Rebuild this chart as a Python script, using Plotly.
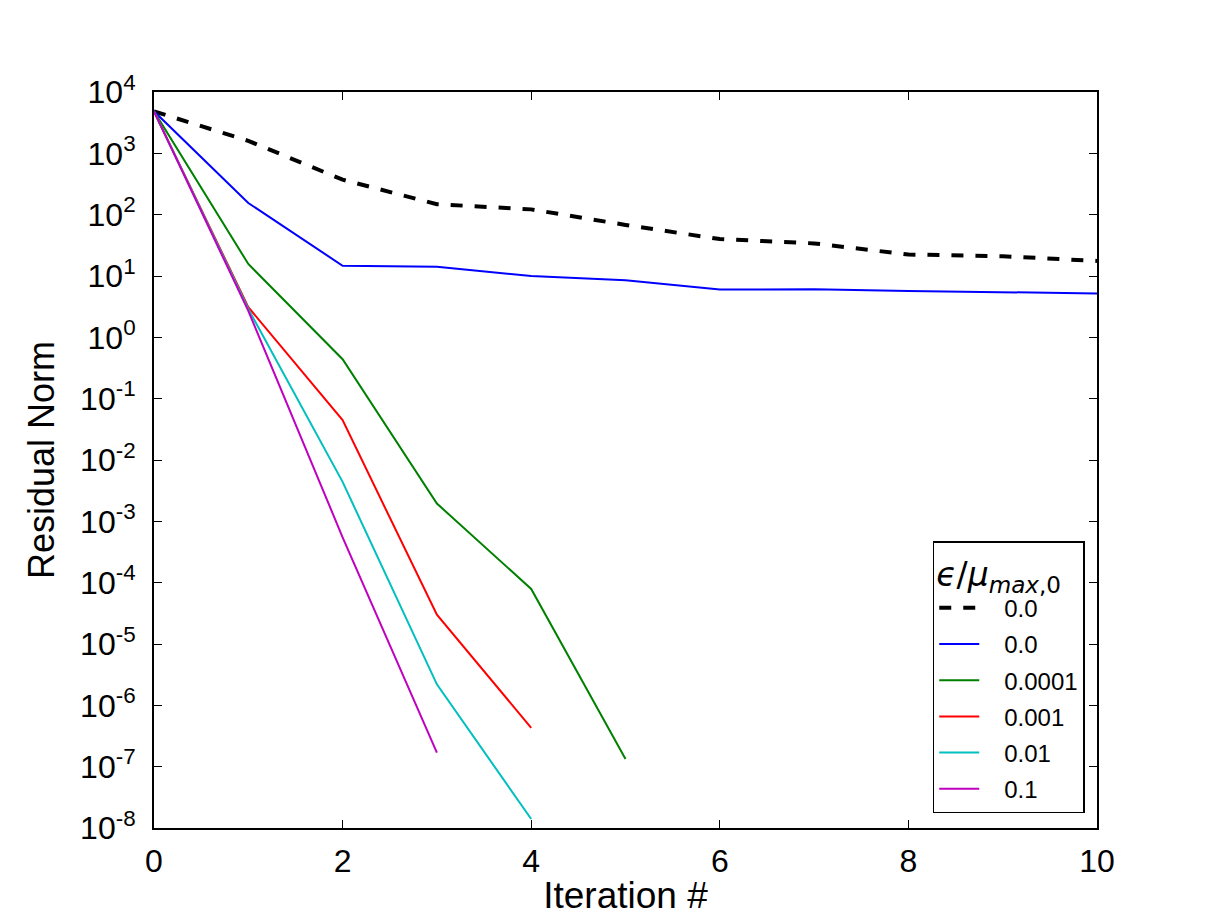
import plotly.graph_objects as go

iterations = list(range(11))

labels = ["0.0", "0.0", "0.0001", "0.001", "0.01", "0.1"]
colors = ["#000000", "#0000ff", "#008000", "#ff0000", "#00bfbf", "#bf00bf"]

res_black = [4840, 1600, 372, 148, 122, 68, 40, 34, 22.4, 21, 17.6]
res_blue = [4840, 155, 14.7, 14.2, 10, 8.5, 6.0, 6.1, 5.7, 5.5, 5.2]
res_green = [4840, 15.7, 0.44, 1.95e-3, 7.9e-5, 1.33e-7]
res_red = [4840, 3.1, 0.0446, 3.0e-5, 4.3e-7]
res_cyan = [4840, 2.9, 4.4e-3, 2.2e-6, 1.4e-8]
res_magenta = [4840, 2.7, 5.5e-4, 1.7e-7]

series = [res_black, res_blue, res_green, res_red, res_cyan, res_magenta]

ytick_exp = list(range(-8, 5))
xtick_vals = [0, 2, 4, 6, 8, 10]

FONT = "Liberation Sans, Arial, Helvetica, sans-serif"
PAD = "\u00a0\u00a0\u00a0"

fig = go.Figure()
for i, (lab, col, ys) in enumerate(zip(labels, colors, series)):
    if i == 0:
        line = dict(color=col, width=4, dash="12px,12px")
    else:
        line = dict(color=col, width=2)
    fig.add_trace(go.Scatter(
        x=iterations[:len(ys)], y=ys, mode="lines", name=PAD + lab,
        line=line, legendgroup=f"g{i}", showlegend=True,
    ))

fig.update_layout(
    width=1219, height=919,
    margin=dict(l=154, r=122, t=92, b=91, autoexpand=False),
    paper_bgcolor="white", plot_bgcolor="white",
    font=dict(family=FONT, color="black", size=32),
    showlegend=True,
    legend=dict(
        x=0.987, y=0.02, xanchor="right", yanchor="bottom",
        bgcolor="white", bordercolor="black", borderwidth=1.5,
        font=dict(family=FONT, size=24, color="black"),
        title=dict(text="<i>ϵ</i>/<i>μ</i><sub><i>max</i>,0</sub>",
                   font=dict(family="DejaVu Sans", size=33)),
        tracegroupgap=2,
        itemwidth=40,
    ),
)

fig.update_xaxes(
    range=[0, 10], tickvals=xtick_vals, ticktext=[str(v) for v in xtick_vals],
    ticks="inside", ticklen=8, tickwidth=1.2, tickcolor="black",
    showline=True, linecolor="black", linewidth=2, mirror="ticks",
    showgrid=False, zeroline=False,
    tickfont=dict(size=32, family=FONT),
    ticklabelstandoff=4,
    title=dict(text="Iteration #", font=dict(size=37, family=FONT), standoff=4),
)
fig.update_yaxes(
    type="log", range=[-8, 4],
    tickvals=[10.0 ** e for e in ytick_exp],
    ticktext=[f"10<sup>{e}</sup>" for e in ytick_exp],
    ticks="inside", ticklen=8, tickwidth=1.2, tickcolor="black",
    showline=True, linecolor="black", linewidth=2, mirror="ticks",
    showgrid=False, zeroline=False,
    tickfont=dict(size=32, family=FONT),
    ticklabelstandoff=10,
    title=dict(text="Residual Norm", font=dict(size=36, family=FONT), standoff=14),
)

fig.write_html("out.html")
